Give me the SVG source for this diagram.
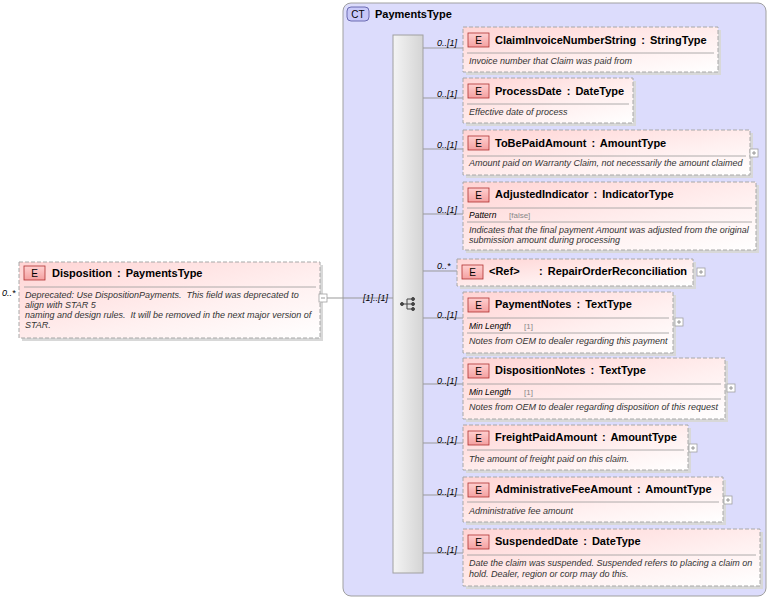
<svg xmlns="http://www.w3.org/2000/svg" width="772" height="599" viewBox="0 0 772 599">
<defs>
<linearGradient id="eg" x1="0" y1="0" x2="1" y2="1"><stop offset="0" stop-color="#ffd4d4"/><stop offset="0.6" stop-color="#fff0f0"/><stop offset="1" stop-color="#ffffff"/></linearGradient>
<linearGradient id="bg" x1="0" y1="0" x2="1" y2="0"><stop offset="0" stop-color="#f4f4f4"/><stop offset="1" stop-color="#d4d4d4"/></linearGradient>
<linearGradient id="badge" x1="0" y1="0" x2="0" y2="1"><stop offset="0" stop-color="#ffd0d0"/><stop offset="1" stop-color="#f4a0a0"/></linearGradient>
<g id="plus"><rect x="0" y="0" width="8" height="8" fill="#fff" stroke="#a0a0a0" stroke-width="0.8"/><path d="M2 4h4M4 2v4" stroke="#808080" stroke-width="0.8"/></g>
</defs>
<style>
text{font-family:"Liberation Sans",Arial,sans-serif;fill:#000}
.t{font-size:11px;font-weight:bold;word-spacing:2px}
.d{font-size:9px;font-style:italic;fill:#333}
.m{font-size:9px;font-style:italic}
.f{font-size:8.5px;font-style:italic}
.fv{font-size:8px;fill:#888}
.box{fill:url(#eg);stroke:#a8a8a8;stroke-dasharray:4 2;stroke-width:1}
.sh{fill:#d8d8d8}
.bd{fill:url(#badge);stroke:#b03030;stroke-width:0.8}
.bt{font-size:10px;text-anchor:middle}
.sep{stroke:#999;stroke-width:0.8}
.c{stroke:#999;stroke-width:1;fill:none}
</style>
<g id="PaymentsType">
<rect x="343" y="3" width="423" height="593" rx="8" fill="#dcdcfc" stroke="#a0a0a0"/>
<rect x="347" y="7" width="22" height="14" rx="4" fill="#c8c8f8" stroke="#5050a0" stroke-width="0.8"/>
<text x="358" y="18" class="bt">CT</text>
<text x="375" y="18" class="t">PaymentsType</text>
<rect x="393" y="35" width="30" height="538" fill="url(#bg)" stroke="#a0a0a0"/>
<g fill="#444" stroke="#444" stroke-width="1">
<circle cx="402" cy="304" r="1.5"/><path d="M403 304h4M407 299v10M407 299h4M407 304h4M407 309h4" fill="none"/>
<circle cx="413" cy="299" r="1.5"/><circle cx="413" cy="304" r="1.5"/><circle cx="413" cy="309" r="1.5"/>
</g>
</g>
<g id="connectors">
<path class="c" d="M327 298H393"/>
<path class="c" d="M423 48H463M423 98H463M423 149H463M423 214H463M423 271H457M423 318H463M423 384H463M423 443H463M423 495H463M423 553H463"/>
</g>
<g id="labels">
<text x="2" y="296" class="m">0..*</text>
<text x="363" y="301" class="m">[1]..[1]</text>
<text x="437" y="46" class="m">0..[1]</text>
<text x="437" y="97" class="m">0..[1]</text>
<text x="437" y="148" class="m">0..[1]</text>
<text x="437" y="213" class="m">0..[1]</text>
<text x="437" y="269" class="m">0..*</text>
<text x="437" y="318" class="m">0..[1]</text>
<text x="437" y="384" class="m">0..[1]</text>
<text x="437" y="443" class="m">0..[1]</text>
<text x="437" y="495" class="m">0..[1]</text>
<text x="437" y="553" class="m">0..[1]</text>
</g>
<g id="Disposition">
<rect x="22" y="265" width="301" height="76" class="sh"/>
<rect x="19" y="262" width="301" height="76" class="box"/>
<rect x="24" y="266" width="21" height="14" class="bd"/><text x="34.5" y="277" class="bt">E</text>
<text x="52" y="277" class="t">Disposition : PaymentsType</text>
<path class="sep" d="M24 287H316"/>
<text x="25" y="298" class="d" xml:space="preserve">Deprecated: Use DispositionPayments.  This field was deprecated to</text>
<text x="25" y="308" class="d">align with STAR 5</text>
<text x="25" y="318" class="d" xml:space="preserve">naming and design rules.  It will be removed in the next major version of</text>
<text x="25" y="328" class="d">STAR.</text>
<rect x="319" y="294" width="8" height="8" fill="#fff" stroke="#a0a0a0" stroke-width="0.8"/><path d="M321 298h4" stroke="#808080" stroke-width="0.8"/>
</g>
<g id="ClaimInvoiceNumberString">
<rect x="466" y="30" width="255" height="45" class="sh"/><rect x="463" y="27" width="255" height="45" class="box"/>
<rect x="468" y="33" width="21" height="14" class="bd"/><text x="478.5" y="44" class="bt">E</text>
<text x="495" y="44" class="t">ClaimInvoiceNumberString : StringType</text>
<path class="sep" d="M467 53H714"/><text x="469" y="64" class="d">Invoice number that Claim was paid from</text>
</g>
<g id="ProcessDate">
<rect x="466" y="81" width="170" height="45" class="sh"/><rect x="463" y="78" width="170" height="45" class="box"/>
<rect x="468" y="84" width="21" height="14" class="bd"/><text x="478.5" y="95" class="bt">E</text>
<text x="495" y="95" class="t">ProcessDate : DateType</text>
<path class="sep" d="M467 104H629"/><text x="469" y="115" class="d">Effective date of process</text>
</g>
<g id="ToBePaidAmount">
<rect x="466" y="133" width="287" height="45" class="sh"/><rect x="463" y="130" width="287" height="45" class="box"/>
<rect x="468" y="136" width="21" height="14" class="bd"/><text x="478.5" y="147" class="bt">E</text>
<text x="495" y="147" class="t">ToBePaidAmount : AmountType</text>
<path class="sep" d="M467 156H746"/><text x="469" y="166" class="d">Amount paid on Warranty Claim, not necessarily the amount claimed</text>
<use href="#plus" x="750" y="149"/>
</g>
<g id="AdjustedIndicator">
<rect x="466" y="185" width="293" height="68" class="sh"/><rect x="463" y="182" width="293" height="68" class="box"/>
<rect x="468" y="188" width="21" height="14" class="bd"/><text x="478.5" y="199" class="bt">E</text>
<text x="495" y="198" class="t">AdjustedIndicator : IndicatorType</text>
<path class="sep" d="M467 208H752"/>
<text x="469" y="218" class="f">Pattern</text><text x="509" y="218" class="fv">[false]</text>
<path class="sep" d="M467 222H752"/>
<text x="469" y="233" class="d">Indicates that the final payment Amount was adjusted from the original</text>
<text x="469" y="243" class="d">submission amount during processing</text>
</g>
<g id="RepairOrderReconciliation">
<rect x="460" y="262" width="236" height="27" class="sh"/><rect x="457" y="259" width="236" height="27" class="box"/>
<rect x="462" y="265" width="21" height="14" class="bd"/><text x="472.5" y="276" class="bt">E</text>
<text x="489" y="275" class="t">&lt;Ref&gt;</text><text x="539" y="275" class="t">: RepairOrderReconciliation</text>
<use href="#plus" x="697" y="268"/>
</g>
<g id="PaymentNotes">
<rect x="466" y="295" width="210" height="61" class="sh"/><rect x="463" y="292" width="210" height="61" class="box"/>
<rect x="468" y="298" width="21" height="14" class="bd"/><text x="478.5" y="309" class="bt">E</text>
<text x="495" y="308" class="t">PaymentNotes : TextType</text>
<path class="sep" d="M467 318H669"/>
<text x="469" y="329" class="f">Min Length</text><text x="524" y="329" class="fv">[1]</text>
<path class="sep" d="M467 333H669"/>
<text x="469" y="344" class="d">Notes from OEM to dealer regarding this payment</text>
<use href="#plus" x="675" y="318"/>
</g>
<g id="DispositionNotes">
<rect x="466" y="361" width="262" height="61" class="sh"/><rect x="463" y="358" width="262" height="61" class="box"/>
<rect x="468" y="364" width="21" height="14" class="bd"/><text x="478.5" y="375" class="bt">E</text>
<text x="495" y="374" class="t">DispositionNotes : TextType</text>
<path class="sep" d="M467 384H721"/>
<text x="469" y="395" class="f">Min Length</text><text x="524" y="395" class="fv">[1]</text>
<path class="sep" d="M467 399H721"/>
<text x="469" y="410" class="d">Notes from OEM to dealer regarding disposition of this request</text>
<use href="#plus" x="727" y="384"/>
</g>
<g id="FreightPaidAmount">
<rect x="466" y="428" width="225" height="45" class="sh"/><rect x="463" y="425" width="225" height="45" class="box"/>
<rect x="468" y="431" width="21" height="14" class="bd"/><text x="478.5" y="442" class="bt">E</text>
<text x="495" y="441" class="t">FreightPaidAmount : AmountType</text>
<path class="sep" d="M467 450H684"/><text x="469" y="462" class="d">The amount of freight paid on this claim.</text>
<use href="#plus" x="689" y="444"/>
</g>
<g id="AdministrativeFeeAmount">
<rect x="466" y="480" width="260" height="45" class="sh"/><rect x="463" y="477" width="260" height="45" class="box"/>
<rect x="468" y="483" width="21" height="14" class="bd"/><text x="478.5" y="494" class="bt">E</text>
<text x="495" y="493" class="t">AdministrativeFeeAmount : AmountType</text>
<path class="sep" d="M467 502H719"/><text x="469" y="514" class="d">Administrative fee amount</text>
<use href="#plus" x="724" y="496"/>
</g>
<g id="SuspendedDate">
<rect x="466" y="532" width="297" height="57" class="sh"/><rect x="463" y="529" width="297" height="57" class="box"/>
<rect x="468" y="535" width="21" height="14" class="bd"/><text x="478.5" y="546" class="bt">E</text>
<text x="495" y="545" class="t">SuspendedDate : DateType</text>
<path class="sep" d="M467 555H756"/>
<text x="469" y="566" class="d">Date the claim was suspended. Suspended refers to placing a claim on</text>
<text x="469" y="577" class="d">hold. Dealer, region or corp may do this.</text>
</g>
</svg>
